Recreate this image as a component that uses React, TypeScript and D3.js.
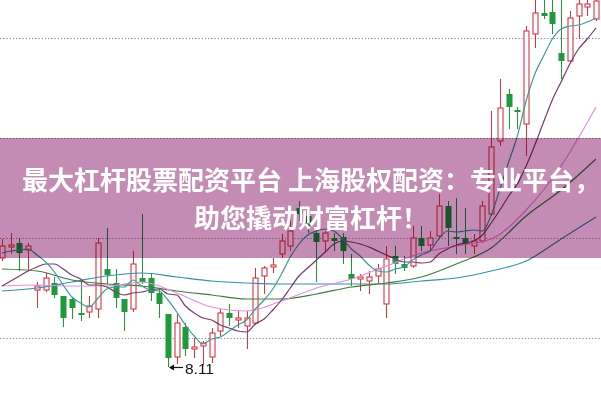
import React from 'react';
import * as d3 from 'd3';

const W = 601;
const H = 399;

const candleIndex = d3.range(69);

const opens = [
  9.20, 9.31, 9.35, 9.28, 8.88, 8.88, 8.95, 8.82, 8.79, 8.65,
  8.66, 8.69, 9.09, 8.95, 8.79, 8.69, 9.00, 9.00, 8.85, 8.64,
  8.21, 8.51, 8.29, 8.32, 8.21, 8.47, 8.65, 8.58, 8.52, 8.55,
  9.02, 9.11, 9.24, 9.32, 9.70, 9.62, 9.45, 9.37, 9.40, 9.41,
  9.04, 8.99, 8.97, 9.02, 8.74, 9.22, 9.14, 9.12, 9.40, 9.33,
  9.42, 9.72, 9.41, 9.40, 9.32, 9.37, 9.64, 10.37, 10.84, 10.68,
  10.54, 11.44, 11.65, 11.66, 11.25, 11.17, 11.62, 11.71, 11.59,
];
const closes = [
  9.32, 9.33, 9.25, 9.32, 8.92, 9.00, 8.83, 8.60, 8.70, 8.63,
  8.72, 9.35, 9.03, 8.80, 8.66, 9.14, 8.96, 8.85, 8.74, 8.20,
  8.55, 8.29, 8.31, 8.35, 8.45, 8.65, 8.60, 8.60, 8.60, 9.00,
  9.10, 9.13, 9.37, 9.47, 9.64, 9.52, 9.36, 9.45, 9.37, 9.27,
  8.99, 9.01, 9.01, 9.09, 9.19, 9.14, 9.10, 9.40, 9.32, 9.40,
  9.72, 9.50, 9.39, 9.34, 9.37, 9.72, 10.31, 10.70, 10.71, 10.66,
  11.47, 11.65, 11.62, 11.54, 11.17, 11.60, 11.74, 11.74, 11.77,
];
const highs = [
  9.39, 9.45, 9.40, 9.35, 8.96, 9.05, 9.01, 8.82, 8.81, 8.99,
  8.82, 9.40, 9.50, 9.09, 8.79, 9.27, 9.64, 9.05, 8.90, 8.64,
  8.65, 8.55, 8.40, 8.37, 8.50, 8.69, 8.74, 8.67, 8.67, 9.10,
  9.12, 9.20, 9.44, 9.72, 9.77, 9.69, 9.47, 9.47, 9.45, 9.45,
  9.24, 9.04, 9.07, 9.14, 9.32, 9.32, 9.22, 9.52, 9.52, 9.47,
  9.84, 9.77, 9.80, 9.70, 9.44, 9.77, 10.67, 10.99, 10.89, 10.71,
  11.52, 11.82, 11.82, 11.82, 11.97, 11.67, 11.82, 11.82, 11.82,
];
const lows = [
  9.17, 9.24, 9.07, 9.07, 8.70, 8.86, 8.80, 8.51, 8.59, 8.57,
  8.60, 8.60, 8.94, 8.70, 8.47, 8.66, 8.94, 8.77, 8.60, 8.11,
  8.14, 8.22, 8.20, 8.13, 8.15, 8.42, 8.52, 8.50, 8.29, 8.53,
  8.84, 9.05, 9.20, 9.27, 9.57, 9.45, 8.96, 9.27, 9.27, 9.14,
  8.92, 8.87, 8.84, 8.95, 8.60, 9.04, 9.07, 9.10, 9.27, 9.27,
  9.39, 9.32, 9.24, 9.24, 9.24, 9.35, 9.62, 10.32, 10.49, 10.49,
  10.22, 11.30, 11.59, 11.44, 10.99, 11.15, 11.39, 11.62, 11.57,
];

const ma5 = [
  9.25, 9.27, 9.28, 9.29, 9.23, 9.16, 9.06, 8.93, 8.81, 8.75,
  8.71, 8.80, 8.89, 8.91, 8.91, 8.98, 8.92, 8.88, 8.87, 8.78,
  8.66, 8.53, 8.42, 8.34, 8.39, 8.41, 8.47, 8.53, 8.58, 8.69,
  8.78, 8.89, 9.04, 9.21, 9.34, 9.43, 9.47, 9.49, 9.47, 9.39,
  9.29, 9.22, 9.13, 9.07, 9.06, 9.09, 9.11, 9.18, 9.23, 9.27,
  9.39, 9.47, 9.46, 9.47, 9.48, 9.47, 9.63, 9.89, 10.16, 10.42,
  10.77, 11.04, 11.22, 11.39, 11.49, 11.52, 11.53, 11.56, 11.60,
];
const ma10 = [
  8.92, 8.97, 9.02, 9.07, 9.11, 9.14, 9.14, 9.09, 9.03, 8.99,
  8.93, 8.93, 8.91, 8.86, 8.83, 8.85, 8.86, 8.88, 8.89, 8.84,
  8.83, 8.72, 8.65, 8.60, 8.58, 8.53, 8.50, 8.47, 8.46, 8.54,
  8.59, 8.68, 8.78, 8.90, 9.02, 9.10, 9.18, 9.26, 9.34, 9.37,
  9.36, 9.34, 9.31, 9.27, 9.23, 9.19, 9.16, 9.16, 9.15, 9.16,
  9.24, 9.29, 9.33, 9.35, 9.37, 9.43, 9.55, 9.68, 9.82, 9.94,
  10.12, 10.33, 10.56, 10.78, 10.96, 11.14, 11.29, 11.39, 11.50,
];
// slower averages read every 4th session
const sparseIndex = d3.range(0, 69, 4);
const ma20 = [8.92, 8.93, 8.92, 8.92, 8.96, 8.85, 8.71, 8.67, 8.77, 8.90, 8.99, 9.12, 9.25, 9.32, 9.39, 9.68, 10.12, 10.71];
const ma30 = [9.09, 9.07, 8.98, 8.94, 8.92, 8.87, 8.83, 8.79, 8.79, 8.84, 8.91, 8.95, 9.01, 9.14, 9.30, 9.62, 9.88, 10.19];
const ma60 = [8.87, 8.90, 8.96, 9.02, 9.05, 9.01, 8.97, 8.95, 8.94, 8.94, 8.94, 8.94, 8.97, 9.00, 9.07, 9.17, 9.39, 9.61];

const gridPrices = [11.4, 10.4, 9.4, 8.4];
const bannerLines = ['最大杠杆股票配资平台 上海股权配资：专业平台，', '助您撬动财富杠杆！'];

const UP = '#d8333f';
const DOWN = '#1f9a3a';

export default function App() {
  const x = d3.scaleLinear().domain([0, 68]).range([2, 596]);
  const y = d3.scaleLinear().domain([7.5, 11.5]).range([428, 28]);

  const mkLine = (idx: number[], vals: number[], curve: any) =>
    d3
      .line<number>()
      .x((_, i) => x(idx[i]))
      .y((d) => y(d))
      .curve(curve)(vals) || '';

  const maLines = [
    { name: 'MA60', d: mkLine(sparseIndex, ma60, d3.curveMonotoneX), color: '#3a8ea6' },
    { name: 'MA30', d: mkLine(sparseIndex, ma30, d3.curveMonotoneX), color: '#3d7d3d' },
    { name: 'MA20', d: mkLine(sparseIndex, ma20, d3.curveMonotoneX), color: '#e48de2' },
    { name: 'MA10', d: mkLine(candleIndex, ma10, d3.curveMonotoneX), color: '#7a3a6c' },
    { name: 'MA5', d: mkLine(candleIndex, ma5, d3.curveMonotoneX), color: '#3f9c9a' },
  ];

  const lowIdx = d3.minIndex(lows);
  const lowX = x(lowIdx);
  const lowY = Math.round(y(lows[lowIdx])) + 0.5;

  return (
    <svg
      width={W}
      height={H}
      style={{ position: 'absolute', left: 0, top: 0, background: '#fff' }}
      fontFamily="Arial, 'Liberation Sans', sans-serif"
    >
      <rect x={0} y={0} width={W} height={H} fill="#fff" />
      {gridPrices.map((p) => (
        <line
          key={p}
          x1={0}
          x2={W}
          y1={Math.round(y(p)) + 0.5}
          y2={Math.round(y(p)) + 0.5}
          stroke="#8a8a8a"
          strokeWidth={1}
          strokeDasharray="1.2,2"
        />
      ))}
      {candleIndex.map((i) => {
        const o = opens[i];
        const c = closes[i];
        const up = c >= o;
        const color = up ? UP : DOWN;
        const cx = Math.round(x(i)) + 0.5;
        const top = y(Math.max(o, c));
        const bot = y(Math.min(o, c));
        const h = Math.max(1, bot - top);
        return (
          <g key={i}>
            <line x1={cx} x2={cx} y1={y(highs[i])} y2={y(lows[i])} stroke={color} strokeWidth={1} />
            {up ? (
              h <= 1.5 ? (
                <line x1={cx - 3} x2={cx + 3} y1={top} y2={top} stroke={color} strokeWidth={1.2} />
              ) : (
                <rect x={cx - 2.5} y={top} width={5} height={h} fill="#fff" stroke={color} strokeWidth={1.1} />
              )
            ) : h <= 1.5 ? (
              <line x1={cx - 3} x2={cx + 3} y1={top} y2={top} stroke={color} strokeWidth={1.4} />
            ) : (
              <rect x={cx - 3} y={top} width={6} height={h} fill={color} />
            )}
          </g>
        );
      })}
      {maLines.map((m) => (
        <path key={m.name} d={m.d} fill="none" stroke={m.color} strokeWidth={1.2} />
      ))}
      <rect x={0} y={138} width={W} height={120} fill="#c48cb4" style={{ mixBlendMode: 'multiply' }} />
      <g
        fill="#fff"
        fontFamily="'Noto Sans CJK SC', 'Noto Sans', sans-serif"
        fontWeight={700}
        fontSize={26}
        textAnchor="middle"
      >
        <text x={311} y={190}>{bannerLines[0]}</text>
        <text x={311} y={228}>{bannerLines[1]}</text>
      </g>
      <g>
        <line x1={lowX + 2} x2={lowX + 15} y1={lowY} y2={lowY} stroke="#111" strokeWidth={1.2} />
        <path d={`M${lowX + 1},${lowY} L${lowX + 6},${lowY - 3} L${lowX + 6},${lowY + 3} Z`} fill="#111" />
        <text x={lowX + 17} y={lowY + 6} fontSize={15.5} fill="#111">
          {lows[lowIdx].toFixed(2)}
        </text>
      </g>
    </svg>
  );
}
